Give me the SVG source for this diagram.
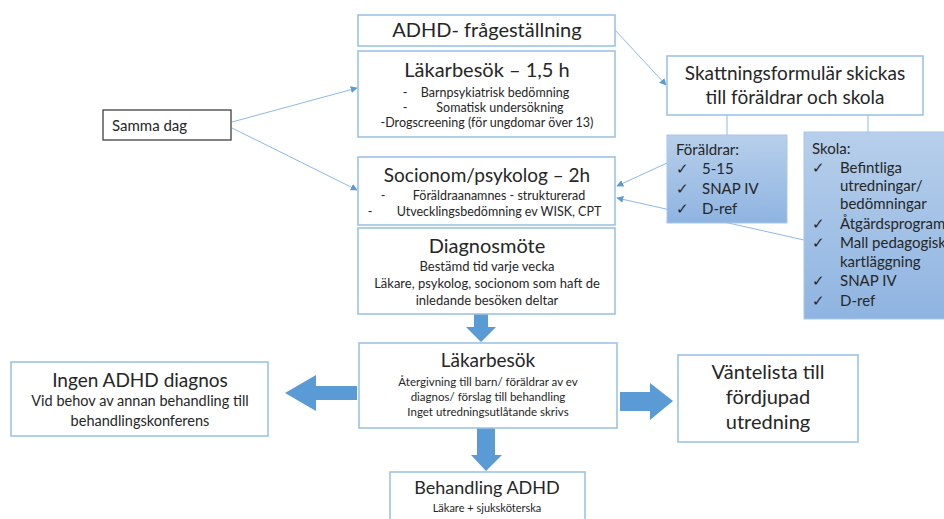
<svg xmlns="http://www.w3.org/2000/svg" width="944" height="519" viewBox="0 0 944 519">
<defs>
<linearGradient id="blueFill" x1="0" y1="0" x2="0" y2="1">
<stop offset="0" stop-color="#b7cfeb"/>
<stop offset="1" stop-color="#8fb4e1"/>
</linearGradient>
<marker id="ah" viewBox="0 0 10 10" refX="9" refY="5" markerWidth="7" markerHeight="7" orient="auto" markerUnits="userSpaceOnUse">
<path d="M0,0 L10,5 L0,10 z" fill="#5b9bd5"/>
</marker>
<style>
text{font-family:Lato,"Open Sans","Liberation Sans",sans-serif;fill:#262626}
.box{fill:#fff;stroke:#9dc3e6;stroke-width:1.6}
.fill{fill:url(#blueFill);stroke:#a9c6e8;stroke-width:1}
.ln{fill:none;stroke:#8db9e6;stroke-width:1}
.blk{fill:#5b9bd5}
.t20{font-size:20px;text-anchor:middle}
.t19{font-size:19px;text-anchor:middle}
.t13{font-size:13px;text-anchor:middle}
.s12{font-size:12.5px;text-anchor:middle}
.t11{font-size:11.5px;text-anchor:middle}
.t15{font-size:15px}
</style>
</defs>
<rect width="944" height="519" fill="#fff"/>

<g id="connectors">
<line class="ln" x1="232" y1="122" x2="357" y2="88" marker-end="url(#ah)"/>
<line class="ln" x1="232" y1="128" x2="357" y2="190" marker-end="url(#ah)"/>
<line class="ln" x1="615" y1="30" x2="666" y2="85" marker-end="url(#ah)"/>
<line class="ln" x1="727" y1="115" x2="727" y2="135"/>
<line class="ln" x1="868" y1="115" x2="868" y2="132"/>
<line class="ln" x1="667" y1="163" x2="617" y2="186" marker-end="url(#ah)"/>
<line class="ln" x1="804" y1="240" x2="617" y2="198" marker-end="url(#ah)"/>
<path class="blk" d="M474,314 H488 V327 H496 L481,342 L466,327 H474 z"/>
<path class="blk" d="M357,386 H316 V375 L285,393 L316,411 V400 H357 z"/>
<path class="blk" d="M620,392 H650 V383 L673,401 L650,420 V411 H620 z"/>
<path class="blk" d="M477,428 H495 V455 H502 L486,471 L471,455 H477 z"/>
</g>

<g id="adhd-fragestallning">
<rect class="box" x="358" y="15" width="257" height="31"/>
<text class="t20" x="487" y="37">ADHD- frågeställning</text>
</g>

<g id="lakarbesok-1">
<rect class="box" x="358" y="51" width="257" height="86"/>
<text class="t20" x="487" y="77">Läkarbesök – 1,5 h</text>
<text class="s12" x="405" y="97">-</text>
<text class="s12" x="495" y="97">Barnpsykiatrisk bedömning</text>
<text class="s12" x="405" y="112">-</text>
<text class="s12" x="500" y="112">Somatisk undersökning</text>
<text class="s12" x="487" y="127">-Drogscreening (för ungdomar över 13)</text>
</g>

<g id="samma-dag">
<rect x="103" y="110" width="128" height="30" fill="#fff" stroke="#404040" stroke-width="1.3"/>
<text x="112" y="131" style="font-size:15px">Samma dag</text>
</g>

<g id="socionom">
<rect class="box" x="358" y="157" width="257" height="68"/>
<text class="t19" x="487" y="182">Socionom/psykolog – 2h</text>
<text class="s12" x="383" y="200">-</text>
<text class="s12" x="499" y="200">Föräldraanamnes - strukturerad</text>
<text class="s12" x="370" y="216">-</text>
<text class="s12" x="499" y="216">Utvecklingsbedömning ev WISK, CPT</text>
</g>

<g id="diagnosmote">
<rect class="box" x="358" y="228" width="257" height="86"/>
<text class="t20" x="487" y="253">Diagnosmöte</text>
<text class="t13" x="487" y="271">Bestämd tid varje vecka</text>
<text class="t13" x="487" y="288">Läkare, psykolog, socionom som haft de</text>
<text class="t13" x="487" y="305">inledande besöken deltar</text>
</g>

<g id="skattningsformular">
<rect class="box" x="667" y="56" width="256" height="59"/>
<text class="t19" x="795" y="80">Skattningsformulär skickas</text>
<text class="t19" x="795" y="104">till föräldrar och skola</text>
</g>

<g id="foraldrar">
<rect class="fill" x="667" y="135" width="120" height="88"/>
<text class="t15" x="676" y="155">Föräldrar:</text>
<text class="t15" x="676" y="174">✓</text><text class="t15" x="702" y="174">5-15</text>
<text class="t15" x="676" y="194">✓</text><text class="t15" x="702" y="194">SNAP IV</text>
<text class="t15" x="676" y="214">✓</text><text class="t15" x="702" y="214">D-ref</text>
</g>

<g id="skola">
<rect class="fill" x="804" y="132" width="150" height="187"/>
<text class="t15" x="812" y="154">Skola:</text>
<text class="t15" x="812" y="173">✓</text><text class="t15" x="840" y="173">Befintliga</text>
<text class="t15" x="840" y="191">utredningar/</text>
<text class="t15" x="840" y="209">bedömningar</text>
<text class="t15" x="812" y="229">✓</text><text class="t15" x="840" y="229">Åtgärdsprogram</text>
<text class="t15" x="812" y="248">✓</text><text class="t15" x="840" y="248">Mall pedagogisk</text>
<text class="t15" x="840" y="267">kartläggning</text>
<text class="t15" x="812" y="286">✓</text><text class="t15" x="840" y="286">SNAP IV</text>
<text class="t15" x="812" y="306">✓</text><text class="t15" x="840" y="306">D-ref</text>
</g>

<g id="lakarbesok-2">
<rect class="box" x="359" y="343" width="258" height="85"/>
<text class="t19" x="488" y="367">Läkarbesök</text>
<text class="t11" x="488" y="386">Återgivning till barn/ föräldrar av ev</text>
<text class="t11" x="488" y="401">diagnos/ förslag till behandling</text>
<text class="t11" x="488" y="416">Inget utredningsutlåtande skrivs</text>
</g>

<g id="ingen-adhd">
<rect class="box" x="11" y="362" width="257" height="74"/>
<text class="t19" x="140" y="387">Ingen ADHD diagnos</text>
<text x="140" y="406" style="font-size:14.5px;text-anchor:middle">Vid behov av annan behandling till</text>
<text x="140" y="426" style="font-size:14.5px;text-anchor:middle">behandlingskonferens</text>
</g>

<g id="vantelista">
<rect class="box" x="678" y="355" width="180" height="87"/>
<text class="t20" x="768" y="379">Väntelista till</text>
<text class="t20" x="768" y="404">fördjupad</text>
<text class="t20" x="768" y="429">utredning</text>
</g>

<g id="behandling-adhd">
<rect class="box" x="390" y="472" width="195" height="60"/>
<text x="487" y="494" style="font-size:18px;text-anchor:middle">Behandling ADHD</text>
<text x="487" y="512" style="font-size:11px;text-anchor:middle">Läkare + sjuksköterska</text>
</g>
</svg>
